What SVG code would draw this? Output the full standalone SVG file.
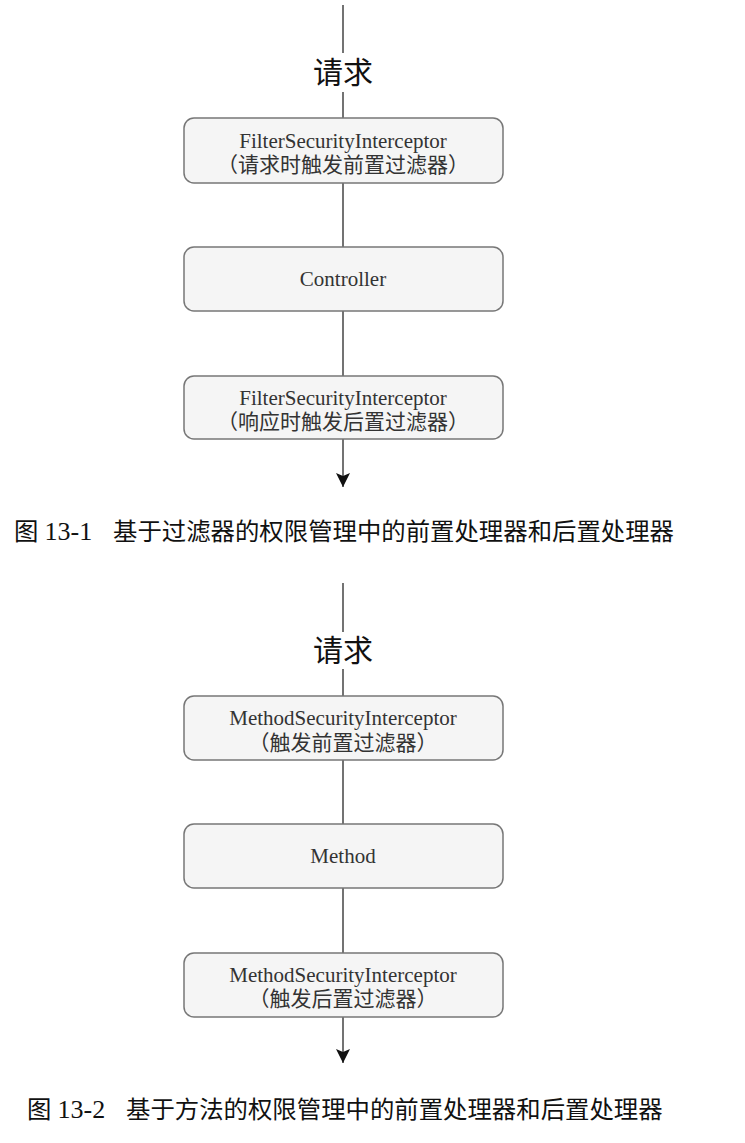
<svg xmlns="http://www.w3.org/2000/svg" width="745" height="1143" viewBox="0 0 745 1143">
<defs>
<marker id="arr" markerWidth="14" markerHeight="14" viewBox="0 0 14 14" refX="14" refY="7" orient="auto" markerUnits="userSpaceOnUse">
<path d="M0,0 L14,7 L0,14 L3,7 Z" fill="#111"/>
</marker>
<style>
.box{fill:#f5f5f5;stroke:#777;stroke-width:1.5}
.t{font-family:"Liberation Serif","Noto Sans CJK SC",serif;font-size:21px;fill:#333;text-anchor:middle}
.req{font-family:"Noto Sans CJK SC",sans-serif;font-size:30px;fill:#111;text-anchor:middle}
.cap{font-family:"Liberation Serif","Noto Sans CJK SC",serif;font-size:24.4px;fill:#111}
.num{font-size:26px}
.ln{stroke:#444;stroke-width:1.5;fill:none}
</style>
</defs>
<rect width="745" height="1143" fill="#fff"/>
<g id="connectors">
<line class="ln" x1="343" y1="5" x2="343" y2="53"/>
<line class="ln" x1="343" y1="92" x2="343" y2="118"/>
<line class="ln" x1="343" y1="183" x2="343" y2="247"/>
<line class="ln" x1="343" y1="311" x2="343" y2="376"/>
<line class="ln" x1="343" y1="439" x2="343" y2="487" marker-end="url(#arr)"/>
<line class="ln" x1="343" y1="583" x2="343" y2="632"/>
<line class="ln" x1="343" y1="669" x2="343" y2="696"/>
<line class="ln" x1="343" y1="760" x2="343" y2="824"/>
<line class="ln" x1="343" y1="888" x2="343" y2="953"/>
<line class="ln" x1="343" y1="1017" x2="343" y2="1063" marker-end="url(#arr)"/>
</g>
<g id="req1"><text class="req" x="343" y="83">请求</text></g>
<g id="fsi-pre">
<rect class="box" x="184" y="118" width="319" height="65" rx="10"/>
<text class="t" x="343" y="148">FilterSecurityInterceptor</text>
<text class="t" x="343" y="172">（请求时触发前置过滤器）</text>
</g>
<g id="controller">
<rect class="box" x="184" y="247" width="319" height="64" rx="10"/>
<text class="t" x="343" y="286">Controller</text>
</g>
<g id="fsi-post">
<rect class="box" x="184" y="376" width="319" height="63" rx="10"/>
<text class="t" x="343" y="405">FilterSecurityInterceptor</text>
<text class="t" x="343" y="429">（响应时触发后置过滤器）</text>
</g>
<g id="caption1"><text class="cap" x="14" y="540">图 <tspan class="num">13-1</tspan><tspan x="113">基于过滤器的权限管理中的前置处理器和后置处理器</tspan></text></g>
<g id="req2"><text class="req" x="343" y="661">请求</text></g>
<g id="msi-pre">
<rect class="box" x="184" y="696" width="319" height="64" rx="10"/>
<text class="t" x="343" y="725">MethodSecurityInterceptor</text>
<text class="t" x="343" y="750">（触发前置过滤器）</text>
</g>
<g id="method">
<rect class="box" x="184" y="824" width="319" height="64" rx="10"/>
<text class="t" x="343" y="863">Method</text>
</g>
<g id="msi-post">
<rect class="box" x="184" y="953" width="319" height="64" rx="10"/>
<text class="t" x="343" y="982">MethodSecurityInterceptor</text>
<text class="t" x="343" y="1006">（触发后置过滤器）</text>
</g>
<g id="caption2"><text class="cap" x="27" y="1118">图 <tspan class="num">13-2</tspan><tspan x="126">基于方法的权限管理中的前置处理器和后置处理器</tspan></text></g>
</svg>
